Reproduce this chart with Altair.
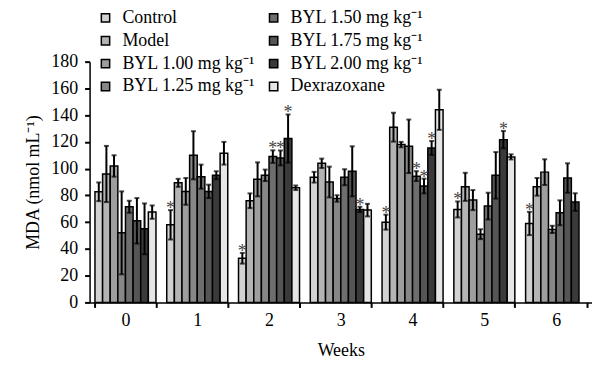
import altair as alt
import pandas as pd

weeks = ["0", "1", "2", "3", "4", "5", "6"]
series = ["Control", "Model", "BYL 1.00 mg kg⁻¹", "BYL 1.25 mg kg⁻¹",
          "BYL 1.50 mg kg⁻¹", "BYL 1.75 mg kg⁻¹", "BYL 2.00 mg kg⁻¹", "Dexrazoxane"]
fills = ["#d2d2d2", "#b4b4b4", "#9e9e9e", "#878787",
         "#6e6e6e", "#555555", "#3a3a3a", "#e6e6e6"]
y_ticks = [0, 20, 40, 60, 80, 100, 120, 140, 160, 180]

control_mean = [82.7, 58.0, 33.0, 93.6, 60.0, 69.5, 59.0]
control_err = [7.0, 11.0, 4.0, 4.0, 5.6, 6.0, 8.7]
model_mean = [96.0, 89.4, 76.0, 104.0, 131.0, 86.4, 86.4]
model_err = [21.0, 3.0, 5.5, 3.5, 10.8, 10.5, 6.6]
byl100_mean = [102.0, 83.0, 92.0, 90.0, 118.0, 76.5, 97.4]
byl100_err = [8.0, 10.0, 12.7, 11.5, 2.0, 7.5, 9.6]
byl125_mean = [52.0, 110.0, 95.0, 77.7, 116.7, 51.0, 54.6]
byl125_err = [31.0, 18.0, 4.3, 2.4, 20.0, 3.7, 2.7]
byl150_mean = [71.5, 94.0, 109.0, 93.6, 94.4, 72.0, 67.0]
byl150_err = [4.5, 9.0, 4.7, 6.0, 3.7, 10.0, 9.3]
byl175_mean = [61.0, 83.0, 108.0, 98.0, 87.0, 95.0, 93.0]
byl175_err = [17.0, 5.0, 5.6, 18.7, 5.5, 17.4, 11.0]
byl200_mean = [55.0, 95.0, 122.5, 69.5, 115.5, 121.7, 75.0]
byl200_err = [19.0, 3.0, 18.0, 2.0, 5.2, 6.5, 6.6]
dex_mean = [67.5, 111.5, 85.7, 69.0, 144.0, 108.8, None]
dex_err = [5.0, 8.5, 1.7, 4.7, 15.0, 1.9, None]

# weeks in which each series is marked with "*"
control_star = ["1", "2", "4", "5", "6"]
model_star = []
byl100_star = []
byl125_star = []
byl150_star = ["2", "4"]
byl175_star = ["2", "4"]
byl200_star = ["2", "3", "4", "5"]
dex_star = []

means = [control_mean, model_mean, byl100_mean, byl125_mean,
         byl150_mean, byl175_mean, byl200_mean, dex_mean]
errs = [control_err, model_err, byl100_err, byl125_err,
        byl150_err, byl175_err, byl200_err, dex_err]
stars = [control_star, model_star, byl100_star, byl125_star,
         byl150_star, byl175_star, byl200_star, dex_star]

rows = []
for s, m, e, st in zip(series, means, errs, stars):
    for w, v, d in zip(weeks, m, e):
        if v is None:
            continue
        rows.append(dict(week=w, group=s, mean=v, lo=v - d, hi=v + d,
                         star="*" if w in st else ""))
df = pd.DataFrame(rows)

FONT = "Liberation Serif"

x_enc = alt.X("week:N", scale=alt.Scale(domain=weeks, paddingInner=0.15, paddingOuter=0.075),
              axis=alt.Axis(title="Weeks", labelAngle=0, tickBand="extent", tickSize=5,
                            labelPadding=4, titlePadding=12))
xo_enc = alt.XOffset("group:N", scale=alt.Scale(domain=series, paddingInner=0, paddingOuter=0))
y_scale = alt.Scale(domain=[0, 180], nice=False)
y_axis = alt.Axis(title="MDA (nmol mL⁻¹)", values=y_ticks, labelOverlap=False,
                  tickSize=5, labelPadding=7, titlePadding=8)


def yq(field):
    return alt.Y(field, scale=y_scale, axis=y_axis)


base = alt.Chart(df)

bars = base.mark_bar(stroke="black", strokeWidth=1.5).encode(
    x=x_enc,
    xOffset=xo_enc,
    y=yq("mean:Q"),
    color=alt.Color("group:N", scale=alt.Scale(domain=series, range=fills),
                    legend=alt.Legend(title=None, orient="none", legendX=7, legendY=-53,
                                      columns=2, symbolType="square", symbolSize=70,
                                      symbolStrokeColor="black", symbolStrokeWidth=1.5,
                                      labelFont=FONT, labelFontSize=18, labelColor="black",
                                      rowPadding=5, columnPadding=9, labelOffset=8,
                                      padding=0, labelLimit=0)),
)

rules = base.mark_rule(color="black", strokeWidth=2).encode(
    x=x_enc, xOffset=xo_enc, y=yq("lo:Q"), y2="hi:Q")
cap_hi = base.mark_tick(color="black", thickness=2, size=5).encode(
    x=x_enc, xOffset=xo_enc, y=yq("hi:Q"))
cap_lo = base.mark_tick(color="black", thickness=2, size=5).encode(
    x=x_enc, xOffset=xo_enc, y=yq("lo:Q"))
star_txt = base.transform_filter(alt.datum.star != "").mark_text(
    font=FONT, fontSize=18, color="#444444", fill="#444444",
    baseline="alphabetic", dy=4).encode(
    x=x_enc, xOffset=xo_enc, y=yq("hi:Q"), text="star:N")

chart = alt.layer(bars, rules, cap_hi, cap_lo, star_txt).properties(
    width=505, height=242,
    padding={"left": 82, "top": 53, "right": 0, "bottom": 63},
    autosize=alt.AutoSizeParams(type="none"),
).configure_axis(
    labelFont=FONT, titleFont=FONT, labelFontSize=18, titleFontSize=18,
    labelColor="black", titleColor="black", titleFontWeight="normal",
    domainColor="black", tickColor="black", domainWidth=1.5, tickWidth=2, grid=False,
).configure_view(stroke=None)

chart.save("out.html", embed_options={"renderer": "svg", "actions": False})
